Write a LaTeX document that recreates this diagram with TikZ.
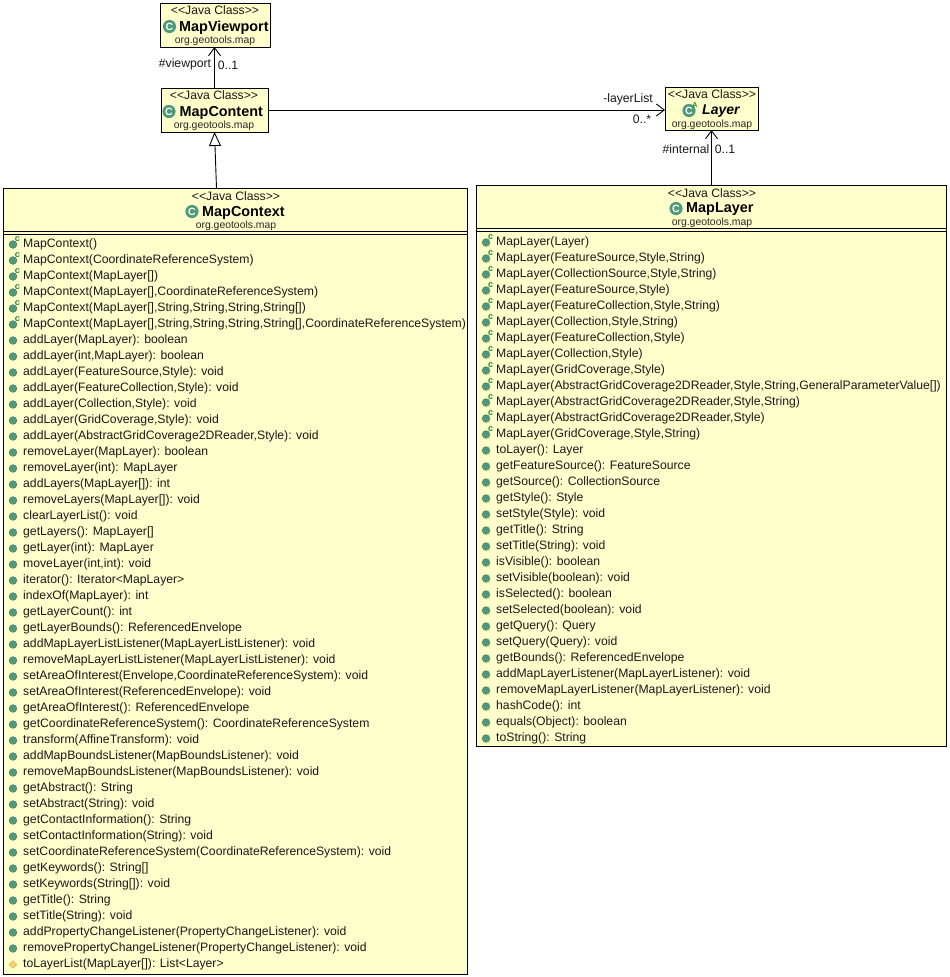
\documentclass[tikz,border=0pt]{standalone}
\usepackage{fontspec}
\setmainfont{Liberation Sans}
\usetikzlibrary{arrows.meta,calc}
\definecolor{boxfill}{HTML}{FFFFCC}
\definecolor{icongreen}{HTML}{4F9A78}
\definecolor{ctorgreen}{HTML}{1E8A2E}
\definecolor{dia}{HTML}{E8B33C}
\tikzset{
  x=1pt,y=-1pt,
  classbox/.style={draw=black,line width=1pt,fill=boxfill,anchor=north west,inner sep=0pt,outer sep=0pt},
  stereo/.style={font=\fontsize{12.2}{13}\selectfont,inner sep=0pt,text=black!90},
  cname/.style={font=\fontsize{14.4}{15}\selectfont\bfseries,inner sep=0pt,anchor=west},
  pkg/.style={font=\fontsize{10.4}{11}\selectfont,inner sep=0pt,text=black!85},
  rowtext/.style={font=\fontsize{12.2}{13}\selectfont,inner sep=0pt,anchor=west,text=black!90},
  lbl/.style={font=\fontsize{12.2}{13}\selectfont,inner sep=0pt,text=black!90},
  assoc/.style={draw=black,line width=.9pt,-{Straight Barb[length=8pt,width=12pt,line width=.9pt]}},
  gen/.style={draw=black,line width=.9pt,-{Triangle[open,length=14pt,width=12pt,line width=.9pt,fill=white]}},
  sepl/.style={draw=black,line width=.9pt},
}
\newcommand{\classicon}[2]{% x y centre
  \fill[icongreen] (#1,#2) circle (6.6pt);
  \node[inner sep=0pt,text=white,font=\fontsize{10.5}{11}\selectfont\bfseries] at (#1,#2) {C};
}
\newcommand{\methicon}[2]{\fill[icongreen,draw=icongreen!70!black,line width=.3pt] (#1,#2) circle (3.9pt);}
\newcommand{\ctoricon}[2]{%
  \fill[icongreen,draw=icongreen!70!black,line width=.3pt] (#1,#2) circle (3.9pt);
  \node[inner sep=0pt,text=ctorgreen,font=\fontsize{9}{9}\selectfont\bfseries] at ($(#1,#2)+(4.5,-5.5)$) {c};
}
\newcommand{\protoicon}[2]{\draw[dia,fill=dia!50!boxfill,line width=.7pt] (#1,#2-3.6) -- (#1+3.6,#2) -- (#1,#2+3.6) -- (#1-3.6,#2) -- cycle;}
\begin{document}
\begin{tikzpicture}
\useasboundingbox (0,0) rectangle (950,977);
\fill[white] (0,0) rectangle (950,977);
% header boxes
\node[classbox,minimum width=110pt,minimum height=44pt] (viewport) at (160,3) {};
\node[classbox,minimum width=107pt,minimum height=44pt] (content) at (161,88) {};
\node[classbox,minimum width=93pt,minimum height=43pt] (layer) at (665,87) {};
\node[classbox,minimum width=464pt,minimum height=786pt] (context) at (3,188) {};
\node[classbox,minimum width=470pt,minimum height=561pt] (maplayer) at (476,185) {};
% connectors
\draw[assoc] (content.north -| 214.5,88) -- (viewport.south -| 214.5,47);
\draw[assoc] (content.east) -- (layer.west |- content.east);
\draw[assoc] (maplayer.north -| 711.5,185) -- (layer.south -| 711.5,130);
\draw[gen] (context.north -| 216.5,188) -- (content.south -| 214.5,132);
% labels
\node[lbl] (l1) at (185,64.5) {\#viewport};
\node[lbl] (l2) at (228,65.5) {0..1};
\node[lbl] (l3) at (628,99.5) {-layerList};
\node[lbl] (l4) at (642,119.5) {0..*};
\node[lbl] (l5) at (686,149.5) {\#internal};
\node[lbl] (l6) at (725,149.5) {0..1};
% viewport
\node[stereo] (s1) at (215,10.5) {<{}<Java Class>{}>};
\classicon{169.5}{26.5}
\node[cname] (n1) at (179,27.5) {MapViewport};
\node[pkg] (p1) at (215,40.5) {org.geotools.map};
% content
\node[stereo] (s2) at (214,95.5) {<{}<Java Class>{}>};
\classicon{169}{111.5}
\node[cname] (n2) at (179.5,112.5) {MapContent};
\node[pkg] (p2) at (214,125.5) {org.geotools.map};
% layer
\node[stereo] (s3) at (712,94.5) {<{}<Java Class>{}>};
\classicon{689}{110.5}
\node[inner sep=0pt,text=ctorgreen,font=\fontsize{7}{7}\selectfont\bfseries] (absA) at (695,105) {A};
\node[cname,font=\fontsize{14}{15}\selectfont\bfseries\itshape] (n3) at (702,111.5) {Layer};
\node[pkg] (p3) at (712,124.5) {org.geotools.map};
% context
\node[stereo] (s4) at (236,196.5) {<{}<Java Class>{}>};
\classicon{192}{211.5}
\node[cname] (n4) at (202,212.5) {MapContext};
\node[pkg] (p4) at (236,225.5) {org.geotools.map};
\draw[sepl] (context.west |- 0,231) -- (context.east |- 0,231);
\draw[sepl] (context.west |- 0,234) -- (context.east |- 0,234);
% maplayer
\node[stereo] (s5) at (712,193.5) {<{}<Java Class>{}>};
\classicon{676}{208.5}
\node[cname] (n5) at (686,209.5) {MapLayer};
\node[pkg] (p5) at (712,222.5) {org.geotools.map};
\draw[sepl] (maplayer.west |- 0,228) -- (maplayer.east |- 0,228);
\draw[sepl] (maplayer.west |- 0,231) -- (maplayer.east |- 0,231);
% rows of MapContext
\foreach \i/\k/\t in {
0/c/{MapContext()},
1/c/{MapContext(CoordinateReferenceSystem)},
2/c/{MapContext(MapLayer[])},
3/c/{MapContext(MapLayer[],CoordinateReferenceSystem)},
4/c/{MapContext(MapLayer[],String,String,String,String[])},
5/c/{MapContext(MapLayer[],String,String,String,String[],CoordinateReferenceSystem)},
6/m/{addLayer(MapLayer): boolean},
7/m/{addLayer(int,MapLayer): boolean},
8/m/{addLayer(FeatureSource,Style): void},
9/m/{addLayer(FeatureCollection,Style): void},
10/m/{addLayer(Collection,Style): void},
11/m/{addLayer(GridCoverage,Style): void},
12/m/{addLayer(AbstractGridCoverage2DReader,Style): void},
13/m/{removeLayer(MapLayer): boolean},
14/m/{removeLayer(int): MapLayer},
15/m/{addLayers(MapLayer[]): int},
16/m/{removeLayers(MapLayer[]): void},
17/m/{clearLayerList(): void},
18/m/{getLayers(): MapLayer[]},
19/m/{getLayer(int): MapLayer},
20/m/{moveLayer(int,int): void},
21/m/{iterator(): Iterator<MapLayer>},
22/m/{indexOf(MapLayer): int},
23/m/{getLayerCount(): int},
24/m/{getLayerBounds(): ReferencedEnvelope},
25/m/{addMapLayerListListener(MapLayerListListener): void},
26/m/{removeMapLayerListListener(MapLayerListListener): void},
27/m/{setAreaOfInterest(Envelope,CoordinateReferenceSystem): void},
28/m/{setAreaOfInterest(ReferencedEnvelope): void},
29/m/{getAreaOfInterest(): ReferencedEnvelope},
30/m/{getCoordinateReferenceSystem(): CoordinateReferenceSystem},
31/m/{transform(AffineTransform): void},
32/m/{addMapBoundsListener(MapBoundsListener): void},
33/m/{removeMapBoundsListener(MapBoundsListener): void},
34/m/{getAbstract(): String},
35/m/{setAbstract(String): void},
36/m/{getContactInformation(): String},
37/m/{setContactInformation(String): void},
38/m/{setCoordinateReferenceSystem(CoordinateReferenceSystem): void},
39/m/{getKeywords(): String[]},
40/m/{setKeywords(String[]): void},
41/m/{getTitle(): String},
42/m/{setTitle(String): void},
43/m/{addPropertyChangeListener(PropertyChangeListener): void},
44/m/{removePropertyChangeListener(PropertyChangeListener): void},
45/p/{toLayerList(MapLayer[]): List<Layer>}}
{
  \pgfmathsetmacro{\yy}{244+16*\i}
  \if\k c\ctoricon{13}{\yy+0.5}\fi
  \if\k m\methicon{13}{\yy+0.5}\fi
  \if\k p\protoicon{13}{\yy+0.5}\fi
  \node[rowtext] (ctx\i) at (23,\yy) {\t};
}
% rows of MapLayer
\foreach \i/\k/\t in {
0/c/{MapLayer(Layer)},
1/c/{MapLayer(FeatureSource,Style,String)},
2/c/{MapLayer(CollectionSource,Style,String)},
3/c/{MapLayer(FeatureSource,Style)},
4/c/{MapLayer(FeatureCollection,Style,String)},
5/c/{MapLayer(Collection,Style,String)},
6/c/{MapLayer(FeatureCollection,Style)},
7/c/{MapLayer(Collection,Style)},
8/c/{MapLayer(GridCoverage,Style)},
9/c/{MapLayer(AbstractGridCoverage2DReader,Style,String,GeneralParameterValue[])},
10/c/{MapLayer(AbstractGridCoverage2DReader,Style,String)},
11/c/{MapLayer(AbstractGridCoverage2DReader,Style)},
12/c/{MapLayer(GridCoverage,Style,String)},
13/m/{toLayer(): Layer},
14/m/{getFeatureSource(): FeatureSource},
15/m/{getSource(): CollectionSource},
16/m/{getStyle(): Style},
17/m/{setStyle(Style): void},
18/m/{getTitle(): String},
19/m/{setTitle(String): void},
20/m/{isVisible(): boolean},
21/m/{setVisible(boolean): void},
22/m/{isSelected(): boolean},
23/m/{setSelected(boolean): void},
24/m/{getQuery(): Query},
25/m/{setQuery(Query): void},
26/m/{getBounds(): ReferencedEnvelope},
27/m/{addMapLayerListener(MapLayerListener): void},
28/m/{removeMapLayerListener(MapLayerListener): void},
29/m/{hashCode(): int},
30/m/{equals(Object): boolean},
31/m/{toString(): String}}
{
  \pgfmathsetmacro{\yy}{242+16*\i}
  \if\k c\ctoricon{486}{\yy+0.5}\fi
  \if\k m\methicon{486}{\yy+0.5}\fi
  \node[rowtext] (lay\i) at (496,\yy) {\t};
}
\end{tikzpicture}
\end{document}
